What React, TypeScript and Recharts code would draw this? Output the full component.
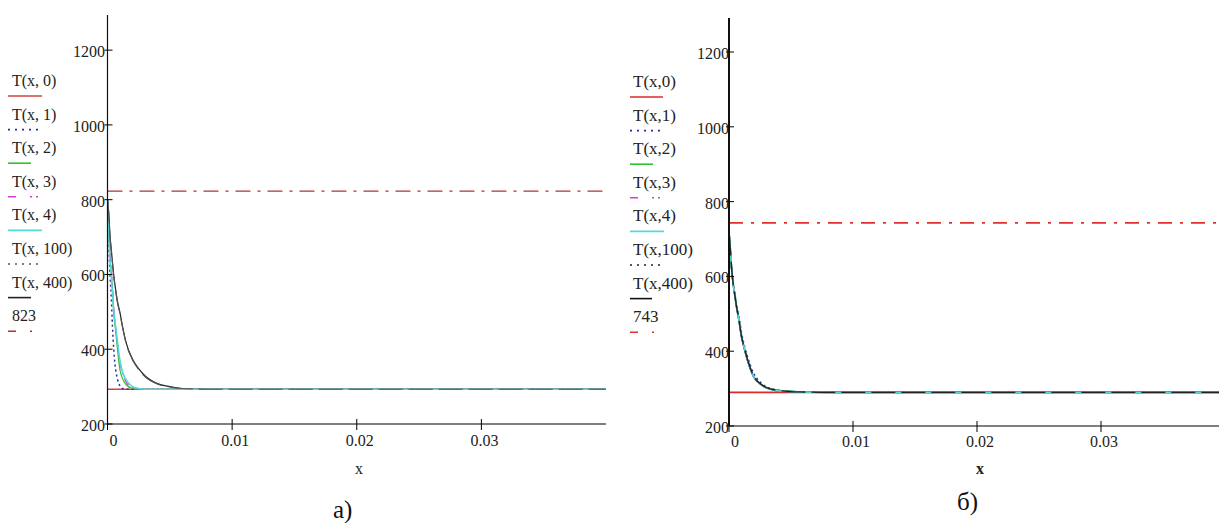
import React from 'react'
import { LineChart, Line, XAxis, YAxis } from 'recharts'

// x positions (m)
const xs = [0, 0.0001, 0.0002, 0.0003, 0.0004, 0.0005, 0.0006, 0.0008, 0.001, 0.0012, 0.0015, 0.002, 0.0025, 0.003, 0.004, 0.005, 0.006, 0.008, 0.01, 0.02, 0.03, 0.04]

// panel a)
const aT0 = [293, 293, 293, 293, 293, 293, 293, 293, 293, 293, 293, 293, 293, 293, 293, 293, 293, 293, 293, 293, 293, 293]
const aT1 = [800, 690, 600, 540, 460, 400, 360, 320, 302, 295, 293, 293, 293, 293, 293, 293, 293, 293, 293, 293, 293, 293]
const aT2 = [800, 720, 650, 605, 560, 495, 465, 400, 345, 322, 305, 295, 293, 293, 293, 293, 293, 293, 293, 293, 293, 293]
const aT3 = [800, 730, 660, 612, 562, 512, 476, 415, 365, 338, 312, 297, 293, 293, 293, 293, 293, 293, 293, 293, 293, 293]
const aT4 = [800, 700, 640, 595, 550, 505, 475, 420, 370, 340, 318, 300, 295, 293, 293, 293, 293, 293, 293, 293, 293, 293]
const aT100 = [800, 760, 700, 665, 630, 595, 570, 525, 495, 460, 415, 372, 346, 327, 307, 299, 295, 293, 293, 293, 293, 293]
const aT400 = [800, 765, 705, 668, 632, 598, 572, 528, 498, 462, 417, 374, 348, 329, 308, 300, 295, 293, 293, 293, 293, 293]
const aConst = [823, 823, 823, 823, 823, 823, 823, 823, 823, 823, 823, 823, 823, 823, 823, 823, 823, 823, 823, 823, 823, 823]

// panel б)
const bT0 = [290, 290, 290, 290, 290, 290, 290, 290, 290, 290, 290, 290, 290, 290, 290, 290, 290, 290, 290, 290, 290, 290]
const bT1 = [720, 672, 622, 592, 568, 548, 527, 492, 452, 420, 385, 340, 318, 305, 296, 292, 291, 290, 290, 290, 290, 290]
const bT2 = [720, 674, 624, 589, 563, 541, 519, 482, 440, 411, 374, 331, 313, 303, 296, 293, 291, 290, 290, 290, 290, 290]
const bT3 = [720, 675, 625, 590, 564, 542, 520, 483, 441, 412, 375, 332, 313, 302, 295, 292, 291, 290, 290, 290, 290, 290]
const bT4 = [720, 678, 628, 592, 566, 544, 522, 486, 443, 414, 376, 332, 313, 302, 294, 292, 291, 290, 290, 290, 290, 290]
const bT100 = [720, 676, 627, 591, 566, 544, 521, 485, 442, 414, 377, 333, 314, 303, 295, 292, 291, 290, 290, 290, 290, 290]
const bT400 = [720, 675, 625, 590, 565, 543, 520, 483, 440, 412, 375, 331, 313, 302, 294, 292, 291, 290, 290, 290, 290, 290]
const bConst = [743, 743, 743, 743, 743, 743, 743, 743, 743, 743, 743, 743, 743, 743, 743, 743, 743, 743, 743, 743, 743, 743]

const xTicks = [0, 0.01, 0.02, 0.03]
const yTicks = [200, 400, 600, 800, 1000, 1200]

const aLabels = ['T(x, 0)', 'T(x, 1)', 'T(x, 2)', 'T(x, 3)', 'T(x, 4)', 'T(x, 100)', 'T(x, 400)', '823']
const bLabels = ['T(x,0)', 'T(x,1)', 'T(x,2)', 'T(x,3)', 'T(x,4)', 'T(x,100)', 'T(x,400)', '743']

const keys = ['t0', 't1', 't2', 't3', 't4', 't100', 't400', 'c']

const rowsA = xs.map((x, i) => ({ x, t0: aT0[i], t1: aT1[i], t2: aT2[i], t3: aT3[i], t4: aT4[i], t100: aT100[i], t400: aT400[i], c: aConst[i] }))
const rowsB = xs.map((x, i) => ({ x, t0: bT0[i], t1: bT1[i], t2: bT2[i], t3: bT3[i], t4: bT4[i], t100: bT100[i], t400: bT400[i], c: bConst[i] }))

const SERIF = "'Liberation Serif', 'DejaVu Serif', serif"

type Style = { stroke: string; width: number; dash?: string; legendLen: number; legendDash?: string }

const stylesA: Record<string, Style> = {
  t0: { stroke: '#d04545', width: 1.5, legendLen: 34 },
  t1: { stroke: '#2a2aa0', width: 1.5, dash: '2 3', legendLen: 30, legendDash: '2 5' },
  t2: { stroke: '#2ec42e', width: 1.2, legendLen: 23 },
  t3: { stroke: '#d040d0', width: 1.2, dash: '8 4 2 4', legendLen: 30, legendDash: '8 14 2 4' },
  t4: { stroke: '#55d8d8', width: 1.6, legendLen: 34 },
  t100: { stroke: '#555555', width: 1.2, dash: '24 6', legendLen: 30, legendDash: '2 5' },
  t400: { stroke: '#222222', width: 1.2, legendLen: 23 },
  c: { stroke: '#b83030', width: 1.4, dash: '15 7 3 7', legendLen: 30, legendDash: '8 14 2 6' },
}

const stylesB: Record<string, Style> = {
  ...stylesA,
  t0: { stroke: '#dd2a2a', width: 1.6, legendLen: 33 },
  t100: { stroke: '#222222', width: 1.4, dash: '24 6', legendLen: 30, legendDash: '2 5' },
  t400: { stroke: '#111111', width: 1.6, legendLen: 22 },
  c: { stroke: '#e03030', width: 1.8, dash: '14 8 3 8', legendLen: 30, legendDash: '8 14 2 6' },
}

// draw order: solid black first so the dashed trace and cyan show over it
const drawOrder = ['t0', 't400', 't1', 't2', 't3', 't4', 't100', 'c']

const Y_W = 60
const X_H = 30

function YTick(props: any) {
  const { x, y, payload, textDx } = props
  return (
    <g>
      <line x1={x - 3} x2={x + 5} y1={y} y2={y} stroke="#000" strokeWidth={1} />
      <text x={x + textDx} y={y + 7} textAnchor="end" fontFamily={SERIF} fontSize={16} fill="#222">
        {payload.value}
      </text>
    </g>
  )
}

function XTick(props: any) {
  const { x, y, payload, baseDy } = props
  const v = payload.value
  return (
    <g>
      <line x1={x} x2={x} y1={y - 5} y2={y + 6} stroke="#000" strokeWidth={1} />
      <text x={x + (v === 0 ? 6 : 3)} y={y + baseDy} textAnchor="middle" fontFamily={SERIF} fontSize={16} fill="#222">
        {String(v)}
      </text>
    </g>
  )
}

function Panel(props: {
  data: any[]
  styles: Record<string, Style>
  plotLeft: number
  plotTop: number
  plotRight: number
  plotBottom: number
  yMax: number
  yAxisWidth: number
  yTextDx: number
  baseDy: number
}) {
  const { data, styles, plotLeft, plotTop, plotRight, plotBottom, yMax, yAxisWidth, yTextDx, baseDy } = props
  const W = 620
  const H = 523
  const margin = { top: plotTop, right: W - plotRight, bottom: H - plotBottom - X_H, left: plotLeft - Y_W }
  return (
    <LineChart width={W} height={H} data={data} margin={margin}>
      <XAxis
        dataKey="x"
        type="number"
        domain={[0, 0.04]}
        allowDataOverflow
        ticks={xTicks}
        interval={0}
        height={X_H}
        tickSize={0}
        tickMargin={0}
        tickLine={false}
        axisLine={{ stroke: '#000', strokeWidth: 1.2 }}
        tick={(p: any) => <XTick {...p} baseDy={baseDy} />}
      />
      <YAxis
        type="number"
        domain={[200, yMax]}
        allowDataOverflow
        ticks={yTicks}
        interval={0}
        width={Y_W}
        tickSize={0}
        tickMargin={0}
        tickLine={false}
        axisLine={{ stroke: '#111', strokeWidth: yAxisWidth }}
        tick={(p: any) => <YTick {...p} textDx={yTextDx} />}
      />
      {drawOrder.map((k) => (
        <Line
          key={k}
          dataKey={k}
          type="monotone"
          stroke={styles[k].stroke}
          strokeWidth={styles[k].width}
          strokeDasharray={styles[k].dash}
          dot={false}
          activeDot={false}
          isAnimationActive={false}
        />
      ))}
    </LineChart>
  )
}

function LegendBlock(props: { labels: string[]; styles: Record<string, Style>; textX: number; lineX: number; top: number; fontSize: number }) {
  const { labels, styles, textX, lineX, top, fontSize } = props
  const step = 33.6
  return (
    <g>
      {labels.map((lab, i) => {
        const s = styles[keys[i]]
        const base = top + i * step
        return (
          <g key={lab}>
            <text x={textX} y={base} fontFamily={SERIF} fontSize={fontSize} fill="#222">
              {lab}
            </text>
            <line
              x1={lineX}
              x2={lineX + s.legendLen}
              y1={base + 10}
              y2={base + 10}
              stroke={s.stroke}
              strokeWidth={1.6}
              strokeDasharray={s.legendDash}
            />
          </g>
        )
      })}
    </g>
  )
}

export default function App() {
  return (
    <div style={{ position: 'fixed', left: 0, top: 0, width: 1219, height: 523, overflow: 'hidden', background: '#fff' }}>
      <div style={{ position: 'absolute', left: 0, top: 0 }}>
        <Panel
          data={rowsA}
          styles={stylesA}
          plotLeft={107.5}
          plotTop={15}
          plotRight={606}
          plotBottom={424}
          yMax={1294}
          yAxisWidth={1.2}
          yTextDx={-2.5}
          baseDy={22}
        />
      </div>
      <div style={{ position: 'absolute', left: 620, top: 0 }}>
        <Panel
          data={rowsB}
          styles={stylesB}
          plotLeft={109}
          plotTop={18}
          plotRight={605}
          plotBottom={426}
          yMax={1291}
          yAxisWidth={2}
          yTextDx={0}
          baseDy={21}
        />
      </div>
      <svg width={1219} height={523} style={{ position: 'absolute', left: 0, top: 0, pointerEvents: 'none' }}>
        <LegendBlock labels={aLabels} styles={stylesA} textX={12} lineX={8} top={86} fontSize={16} />
        <LegendBlock labels={bLabels} styles={stylesB} textX={633} lineX={630} top={87} fontSize={17} />
        <text x={359} y={474} textAnchor="middle" fontFamily={SERIF} fontSize={16} fill="#222">x</text>
        <text x={980} y={474} textAnchor="middle" fontFamily={SERIF} fontSize={16} fontWeight="bold" fill="#222">x</text>
        <text x={333} y={518} fontFamily={SERIF} fontSize={25} fill="#111">a)</text>
        <text x={957} y={510} fontFamily={SERIF} fontSize={25} fill="#111">б)</text>
      </svg>
    </div>
  )
}
